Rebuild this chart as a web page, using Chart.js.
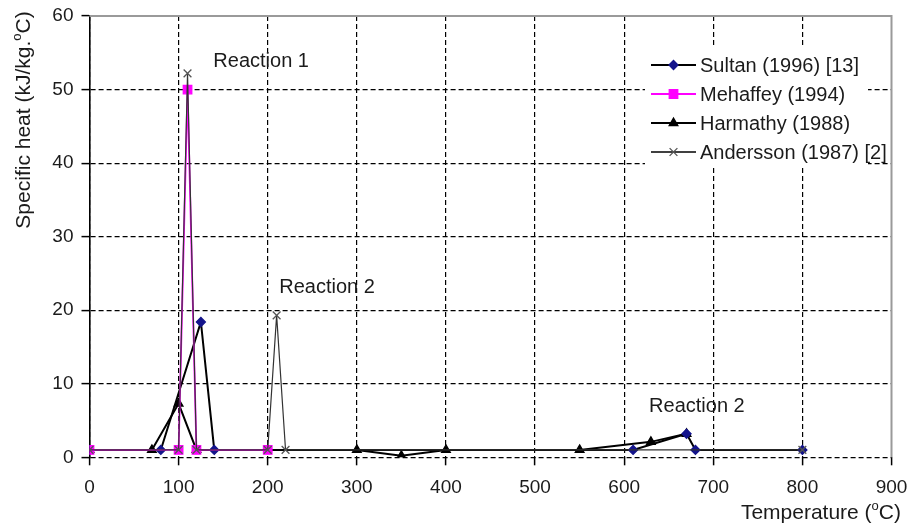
<!DOCTYPE html>
<html>
<head>
<meta charset="utf-8">
<script src="https://cdn.jsdelivr.net/npm/chart.js@4.4.1/dist/chart.umd.min.js"></script>
<style>
  html, body { margin: 0; padding: 0; background: #fff; }
  #chart { display: block; }
</style>
</head>
<body>
<canvas id="chart" width="908" height="527"></canvas>
<script>
// Specific heat of gypsum vs temperature, four published models
const xTicks = [0, 100, 200, 300, 400, 500, 600, 700, 800, 900];
const yTicks = [0, 10, 20, 30, 40, 50, 60];

const sultanT = [0, 80, 125, 140, 610, 670, 680, 800];
const sultanCp = [1, 1, 18.4, 1, 1, 3.2, 1, 1];

const mehaffeyT = [0, 100, 110, 120, 200];
const mehaffeyCp = [1, 1, 50, 1, 1];

const harmathyT = [0, 70, 100, 120, 300, 350, 400, 550, 630, 670];
const harmathyCp = [1, 1, 7.3, 1, 1, 0.2, 1, 1, 2.1, 3.2];

const anderssonT = [0, 100, 110, 120, 200, 210, 220, 800];
const anderssonCp = [1, 1, 52.2, 1, 1, 19.3, 1, 1];

const seriesNames = ['Sultan (1996) [13]', 'Mehaffey (1994)', 'Harmathy (1988)', 'Andersson (1987) [2]'];

// reaction labels, anchored at (temperature, cp) of the text's left baseline
const noteText = ['Reaction 1', 'Reaction 2', 'Reaction 2'];
const noteT = [139, 213, 628];
const noteCp = [53.1, 22.3, 6.2];

const FONT = '"Liberation Sans", Arial, Helvetica, sans-serif';
const INK = '#1b1b1b';

const pts = (xs, ys) => xs.map((x, i) => ({ x: x, y: ys[i] }));

const styles = [
  { line: '#000', lw: 2, marker: 'rectRot', r: 4.5, fill: '#14148c', edge: '#14148c' },
  { line: '#ff00ff', lw: 1.8, marker: 'rect', r: 6, fill: '#ff00ff', edge: '#ff00ff' },
  { line: '#000', lw: 2, marker: 'triangle', r: 5, fill: '#000', edge: '#000' },
  { line: '#333', lw: 1.2, marker: 'crossRot', r: 5.5, fill: '#555', edge: '#555' }
];

function makeSet(i, data, order) {
  const s = styles[i];
  return {
    label: seriesNames[i], data: data, order: order,
    showLine: true, borderColor: s.line, borderWidth: s.lw,
    pointStyle: s.marker, pointRadius: s.r,
    pointBackgroundColor: s.fill, pointBorderColor: s.edge, pointBorderWidth: 1.3,
    tension: 0, fill: false
  };
}

// text with an "o" superscript for the degree sign
function drawSupText(ctx, before, after, x, y, size, align) {
  ctx.font = size + 'px ' + FONT;
  const w1 = ctx.measureText(before).width;
  const w3 = ctx.measureText(after).width;
  ctx.font = Math.round(size * 0.62) + 'px ' + FONT;
  const w2 = ctx.measureText('o').width;
  const total = w1 + w2 + w3;
  let x0 = align === 'right' ? x - total : (align === 'center' ? x - total / 2 : x);
  ctx.textAlign = 'left';
  ctx.textBaseline = 'alphabetic';
  ctx.font = size + 'px ' + FONT;
  ctx.fillText(before, x0, y);
  ctx.font = Math.round(size * 0.62) + 'px ' + FONT;
  ctx.fillText('o', x0 + w1, y - size * 0.42);
  ctx.font = size + 'px ' + FONT;
  ctx.fillText(after, x0 + w1 + w2, y);
}

const decorations = {
  id: 'decorations',
  afterDatasetsDraw(chart) {
    const ctx = chart.ctx;
    const a = chart.chartArea;
    const xs = chart.scales.x, ys = chart.scales.y;
    ctx.save();

    // solid grey frame on top and right
    ctx.strokeStyle = '#9a9a9a';
    ctx.lineWidth = 2;
    ctx.beginPath();
    ctx.moveTo(a.left, a.top);
    ctx.lineTo(a.right, a.top);
    ctx.lineTo(a.right, a.bottom);
    ctx.stroke();

    // reaction notes
    ctx.fillStyle = INK;
    ctx.font = '20px ' + FONT;
    ctx.textAlign = 'left';
    ctx.textBaseline = 'alphabetic';
    noteText.forEach((t, i) => {
      ctx.fillText(t, xs.getPixelForValue(noteT[i]), ys.getPixelForValue(noteCp[i]));
    });

    // legend box
    ctx.fillStyle = '#fff';
    ctx.fillRect(645, 47, 223, 120);
    const rowY = [65, 94, 123, 152];
    seriesNames.forEach((name, i) => {
      const s = styles[i];
      const y = rowY[i];
      ctx.strokeStyle = i === 3 ? '#000' : s.line;
      ctx.lineWidth = i === 3 ? 1.5 : s.lw;
      ctx.beginPath();
      ctx.moveTo(651, y);
      ctx.lineTo(696, y);
      ctx.stroke();
      ctx.fillStyle = s.fill;
      ctx.strokeStyle = s.edge;
      ctx.lineWidth = 1.3;
      Chart.helpers.drawPoint(ctx, { pointStyle: s.marker, radius: s.r, borderWidth: 1.3 }, 673.5, y);
      ctx.fillStyle = INK;
      ctx.font = '20px ' + FONT;
      ctx.textAlign = 'left';
      ctx.textBaseline = 'middle';
      ctx.fillText(name, 700, y + 1);
    });

    // axis titles
    ctx.fillStyle = INK;
    drawSupText(ctx, 'Temperature (', 'C)', 901, 519, 21, 'right');
    ctx.translate(30, 120);
    ctx.rotate(-Math.PI / 2);
    drawSupText(ctx, 'Specific heat (kJ/kg.', 'C)', 0, 0, 21, 'center');
    ctx.restore();
  }
};

const tickFont = { family: FONT, size: 19 };

new Chart(document.getElementById('chart'), {
  type: 'scatter',
  data: {
    datasets: [
      makeSet(0, pts(sultanT, sultanCp), 3),
      makeSet(1, pts(mehaffeyT, mehaffeyCp), 2),
      makeSet(2, pts(harmathyT, harmathyCp), 4),
      makeSet(3, pts(anderssonT, anderssonCp), 1)
    ]
  },
  options: {
    responsive: false,
    animation: false,
    devicePixelRatio: 1,
    layout: { padding: { top: 16, right: 16.5, left: 0, bottom: 0 } },
    plugins: { legend: { display: false }, tooltip: { enabled: false } },
    scales: {
      x: {
        type: 'linear', min: 0, max: 900,
        afterBuildTicks: s => { s.ticks = xTicks.map(v => ({ value: v })); },
        afterFit: s => { s.height = 69.7; s.paddingLeft = 0; s.paddingRight = 0; },
        grid: {
          color: c => (c.tick && c.tick.value === 900) ? 'rgba(0,0,0,0)' : '#000',
          lineWidth: 1.2, tickLength: 8, tickColor: '#000', tickWidth: 1.5, tickBorderDash: []
        },
        border: { display: false, dash: [5, 3] },
        ticks: { font: tickFont, color: INK, padding: 11, maxRotation: 0 }
      },
      y: {
        min: 0, max: 60,
        afterBuildTicks: s => { s.ticks = yTicks.map(v => ({ value: v })); },
        afterFit: s => { s.width = 89.5; s.paddingTop = 0; s.paddingBottom = 0; },
        grid: {
          color: c => (c.tick && c.tick.value === 60) ? 'rgba(0,0,0,0)' : '#000',
          lineWidth: 1.2, tickLength: 8, tickColor: '#000', tickWidth: 1.5, tickBorderDash: []
        },
        border: { display: true, color: '#000', width: 1.6, dash: [5, 3] },
        ticks: { font: tickFont, color: INK, padding: 8 }
      }
    }
  },
  plugins: [decorations]
});
</script>
</body>
</html>
